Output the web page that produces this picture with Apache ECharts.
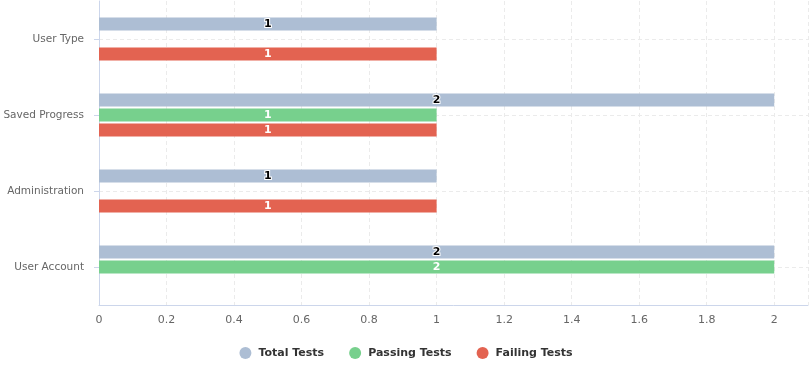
<!DOCTYPE html>
<html><head><meta charset="utf-8">
<script src="https://cdn.jsdelivr.net/npm/echarts@6/dist/echarts.min.js"></script>
<style>html,body{margin:0;padding:0;background:#fff}#c{width:812px;height:366px}</style>
</head><body><div id="c"></div>
<script>
const categories = ['User Account', 'Administration', 'Saved Progress', 'User Type'];
const totalTests = [2, 1, 2, 1];
const passingTests = [2, 0, 1, 0];
const failingTests = [0, 1, 1, 1];
const seriesNames = ['Total Tests', 'Passing Tests', 'Failing Tests'];
const colors = ['#adbed4', '#77d08d', '#e36351'];
const font = '"DejaVu Sans", Verdana, sans-serif';

function lbl(color, border) {
  return {
    show: true, position: 'inside', color: color, fontWeight: 'bold', fontSize: 11,
    fontFamily: font, textBorderColor: border || 'transparent', textBorderWidth: border ? 2 : 0,
    formatter: p => (p.value ? String(p.value) : '')
  };
}
const chart = echarts.init(document.getElementById('c'));
chart.setOption({
  animation: false,
  color: colors,
  grid: { left: 99, right: 4, top: 1, bottom: 61, containLabel: false, outerBoundsMode: 'none' },
  legend: {
    bottom: 2, left: 'center', icon: 'circle', itemWidth: 12, itemHeight: 12, itemGap: 25,
    textStyle: { fontWeight: 'bold', fontSize: 11, color: '#333', fontFamily: font, padding: [0, 0, 0, 2] },
    data: seriesNames
  },
  xAxis: {
    type: 'value', min: 0, max: 2.1, interval: 0.2,
    axisLine: { show: true, lineStyle: { color: '#ccd6eb' } },
    axisTick: { show: false },
    axisLabel: { color: '#666', fontSize: 11, fontFamily: font, margin: 10, showMaxLabel: false },
    splitLine: { show: true, lineStyle: { color: '#ebebeb', type: [4, 3] } }
  },
  yAxis: {
    type: 'category', data: categories,
    axisLine: { show: true, lineStyle: { color: '#ccd6eb' } },
    axisTick: { show: true, alignWithLabel: true, length: 5, lineStyle: { color: '#ccd6eb' } },
    axisLabel: { color: '#666', fontSize: 10.5, fontFamily: font, margin: 15 },
    splitLine: { show: true, alignWithLabel: true, lineStyle: { color: '#ebebeb', type: [4, 3] } }
  },
  series: [
    { name: seriesNames[0], type: 'bar', data: totalTests, barWidth: 13, barGap: '15%', label: lbl('#000', '#fff') },
    { name: seriesNames[1], type: 'bar', data: passingTests, barWidth: 13, barGap: '15%', label: lbl('#fff', null) },
    { name: seriesNames[2], type: 'bar', data: failingTests, barWidth: 13, barGap: '15%', label: lbl('#fff', null) }
  ]
});
</script></body></html>
